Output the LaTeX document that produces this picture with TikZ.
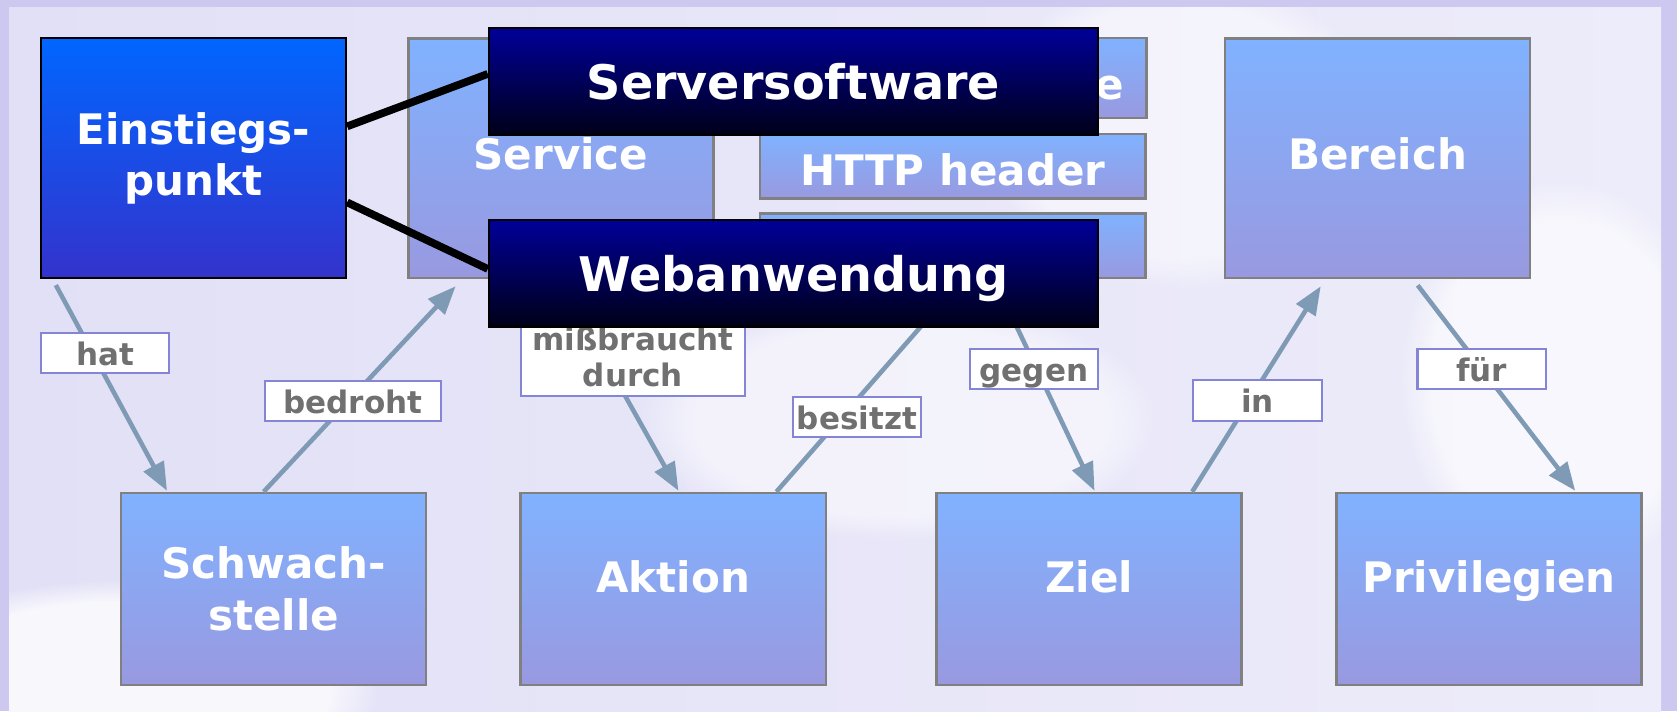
\documentclass[tikz,border=0pt]{standalone}
\usepackage{fontspec}
\setmainfont{DejaVu Sans}
\usetikzlibrary{arrows.meta,calc,fadings}
\definecolor{bgouter}{HTML}{CCC8F0}
\definecolor{bginA}{HTML}{E2E0F6}
\definecolor{bginB}{HTML}{EDECFA}
\definecolor{lightTop}{HTML}{80B2FF}
\definecolor{lightBot}{HTML}{9999E0}
\definecolor{einTop}{HTML}{0066FF}
\definecolor{einBot}{HTML}{3333CC}
\definecolor{darkTop}{HTML}{000099}
\definecolor{darkBot}{HTML}{000018}
\definecolor{arrowc}{HTML}{7F9AB4}
\definecolor{lblborder}{HTML}{8585D6}
\definecolor{lbltext}{HTML}{707070}
\definecolor{boxborder}{HTML}{808080}
\begin{document}
\begin{tikzpicture}[x=0.01cm,y=-0.01cm,
  boxfont/.style={font=\fontsize{11.95}{14.7}\selectfont\bfseries},
  lightbox/.style={draw=boxborder, line width=0.7pt, top color=lightTop, bottom color=lightBot,
    text=white, boxfont, inner sep=0pt, align=center},
  bigbox/.style={lightbox, minimum width=3.05cm, minimum height=2.395cm},
  lowbox/.style={lightbox, minimum width=3.05cm, minimum height=1.92cm},
  smallbox/.style={lightbox, minimum width=3.851cm},
  topline/.style={text height=9.1pt, text depth=2.85pt},
  lowline/.style={text height=9.1pt, text depth=7pt},
  einbox/.style={draw=black, line width=0.6pt, top color=einTop, bottom color=einBot,
    text=white, boxfont, inner sep=0pt, align=center, minimum width=3.05cm, minimum height=2.395cm},
  darkbox/.style={draw=black, line width=0.6pt, top color=darkTop, bottom color=darkBot,
    text=white, font=\fontsize{13.55}{16}\selectfont\bfseries, inner sep=0pt,
    minimum width=6.09cm, minimum height=1.07cm, text height=10.24pt, text depth=0pt},
  lblbase/.style={draw=lblborder, line width=0.6pt, fill=white, text=lbltext,
    font=\fontsize{8.82}{10.44}\selectfont\bfseries, inner sep=0pt, align=center,
    minimum height=0.4cm, minimum width=1.28cm},
  lbl/.style={lblbase, text height=6.83pt, text depth=0pt},
  arr/.style={draw=arrowc, line width=1.3pt, -{Triangle[length=8pt,width=6.3pt]}},
  link/.style={draw=black, line width=2.2pt}
]
\useasboundingbox (0,0) rectangle (1677,711);
% background
\fill[bgouter] (0,0) rectangle (1677,711);
\shade[left color=bginA, right color=bginB] (9,7) rectangle (1661,711);
\begin{scope}
\clip (9,7) rectangle (1661,711);
\fill[white, opacity=0.75, path fading=circle with fuzzy edge 20 percent] (120,690) ellipse (260 and 110);
\fill[white, opacity=0.6, path fading=circle with fuzzy edge 20 percent] (1560,380) ellipse (160 and 200);
\fill[white, opacity=0.5, path fading=circle with fuzzy edge 20 percent] (1180,130) ellipse (200 and 160);
\fill[white, opacity=0.5, path fading=circle with fuzzy edge 20 percent] (900,420) ellipse (260 and 120);
\end{scope}

% boxes
\node[einbox] (ein) at (193.5,158.25) {Einstiegs-\\punkt};
\node[bigbox, topline] (svc) at (560.9,158.25) {Service};
\node[smallbox, minimum height=0.80cm, text height=11.95pt, text depth=0pt] (sma) at (952.9,78) {Serversoftware\hspace{0.22cm}};
\node[smallbox, minimum height=0.643cm, text height=10.8pt, text depth=0pt] (smb) at (952.9,166.15) {HTTP header};
\node[smallbox, minimum height=0.645cm] (smc) at (952.9,245.75) {};
\node[bigbox, topline] (ber) at (1377.5,158.25) {Bereich};
\node[lowbox] (schw) at (273.5,589) {Schwach-\\stelle};
\node[lowbox, lowline] (akt) at (673.2,589) {Aktion};
\node[lowbox, lowline] (ziel) at (1089,589) {Ziel};
\node[lowbox, lowline] (priv) at (1489,589) {Privilegien};

% connectors
\draw[arr] ($(ein.south west)+(16,6)$) -- ($(schw.north west)+(47.3,-1)$);
\draw[arr] ($(schw.north west)+(144,0)$) -- ($(svc.south west)+(48.5,7)$);
\draw[arr] ($(svc.south west)+(156,6)$) -- ($(akt.north west)+(159,-1)$);
\draw[arr] ($(akt.north west)+(257,0)$) -- ($(smc.south west)+(198,6)$);
\draw[arr] ($(smc.south west)+(238,6)$) -- ($(ziel.north west)+(159.3,-1)$);
\draw[arr] ($(ziel.north west)+(257,0)$) -- ($(ber.south west)+(97,7)$);
\draw[arr] ($(ber.south west)+(194,6)$) -- ($(priv.north west)+(240,-1)$);

% labels
\node[lbl] (lhat) at (105.3,353) {hat};
\node[lbl, minimum width=1.76cm] (lbed) at (353,401) {bedroht};
\node[lblbase, minimum width=2.24cm, minimum height=0.78cm] (lmis) at (633,357) {mißbraucht\\durch};
\node[lbl] (lbes) at (857,417) {besitzt};
\node[lbl] (lgeg) at (1034,369) {gegen};
\node[lbl, minimum width=1.29cm, minimum height=0.41cm] (lin) at (1257.5,400.7) {in};
\node[lbl] (lfur) at (1481.5,369) {für};

% overlay boxes
\node[darkbox] (sdark) at (793.5,81.5) {Serversoftware};
\node[darkbox, minimum height=1.065cm] (wdark) at (793.5,273.25) {Webanwendung};
\draw[link] ($(ein.north east)+(0,89)$) -- ($(sdark.north west)+(0,47)$);
\draw[link] ($(ein.north east)+(0,165)$) -- ($(wdark.north west)+(0,50)$);
\end{tikzpicture}
\end{document}
